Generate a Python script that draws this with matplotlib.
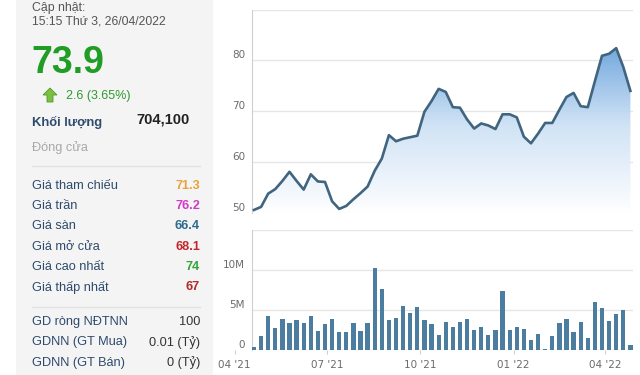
import matplotlib
matplotlib.use("Agg")
import matplotlib.pyplot as plt
import matplotlib.dates as mdates
import numpy as np
import pandas as pd
from matplotlib.colors import LinearSegmentedColormap
from matplotlib.patches import Rectangle, Polygon
from matplotlib.ticker import FuncFormatter

# ---------------- data ----------------
weeks = pd.date_range("2021-04-20", periods=54, freq="7D")  # weekly points up to 26/04/2022

price = [50.6, 51.2, 53.8, 54.7, 56.3, 58.1, 56.3, 54.6, 57.6, 56.2,
         56.1, 52.3, 50.8, 51.4, 52.7, 53.9, 55.2, 58.3, 60.7, 65.3,
         64.1, 64.6, 64.9, 65.2, 69.9, 72.0, 74.4, 73.8, 70.8, 70.7,
         68.4, 66.6, 67.6, 67.2, 66.5, 69.4, 69.4, 68.8, 65.0, 63.7,
         65.6, 67.7, 67.7, 70.3, 72.8, 73.6, 71.0, 70.8, 75.9, 80.9,
         81.3, 82.4, 78.7, 74.0]

volume_m = [0.4, 1.8, 4.2, 2.8, 3.9, 3.4, 3.75, 3.4, 4.2, 2.4,
            3.25, 3.9, 2.2, 2.2, 3.4, 2.4, 3.4, 10.25, 7.6, 3.75,
            4.0, 5.5, 4.6, 5.4, 3.75, 3.25, 1.85, 3.5, 2.9, 3.5,
            3.9, 2.55, 2.9, 1.9, 2.55, 7.4, 2.55, 2.9, 2.65, 1.25,
            1.95, 0.12, 1.7, 3.4, 3.9, 2.3, 3.5, 1.5, 6.0, 5.2,
            3.6, 4.5, 5.0, 0.6]

tick_dates = ["2021-04-01", "2021-07-01", "2021-10-01", "2022-01-01", "2022-04-01"]
tick_labels = ["04 '21", "07 '21", "10 '21", "01 '22", "04 '22"]

price_ticks = [50, 60, 70, 80]
price_grid = [50, 60, 70, 80, 90]
vol_ticks = [0, 5, 10]
vol_grid = [0, 5, 10, 15]

# left panel
stat_labels = ["Giá tham chiếu", "Giá trần", "Giá sàn", "Giá mở cửa", "Giá cao nhất", "Giá thấp nhất"]
stat_values = ["71.3", "76.2", "66.4", "68.1", "74", "67"]
stat_colors = ["#eaa23a", "#d23ac8", "#2f6b8c", "#c4262b", "#35a33a", "#b3282b"]
foreign_labels = ["GD ròng NĐTNN", "GDNN (GT Mua)", "GDNN (GT Bán)"]
foreign_values = ["100", "0.01 (Tỷ)", "0 (Tỷ)"]

# ---------------- figure ----------------
W, H = 640, 375
fig = plt.figure(figsize=(6.4, 3.75), dpi=100)
fig.patch.set_facecolor("white")

x = mdates.date2num(weeks)
d0 = mdates.date2num(pd.Timestamp("2021-04-01"))
px_day = 1.0146  # pixels per day in the reference
x_left = d0 - (234.7 - 228) / px_day
x_spine = d0 + (252 - 234.7) / px_day
x_right = d0 + (633 - 234.7) / px_day

def fig_rect(l, t, r, b):
    return [l / W, 1 - b / H, (r - l) / W, (b - t) / H]

tick_color = "#6b6b6b"
grid_color = "#e6e6e6"
axis_color = "#cfcfcf"

# ---- price chart ----
ax1 = fig.add_axes(fig_rect(228, 9.5, 633, 213))
ax1.set_xlim(x_left, x_right)
ax1.set_ylim(50, 90)
ax1.hlines(price_grid, x_spine, x_right, colors=grid_color, lw=1, zorder=0)

fill = ax1.fill_between(x, price, 50, facecolor="none", edgecolor="none")
cmap = LinearSegmentedColormap.from_list("g", ["#ffffff", "#cde1f5", "#5c9ad8"])
grad = np.linspace(0, 1, 256).reshape(-1, 1)
img = ax1.imshow(grad, extent=[x[0], x[-1], 50, 85], origin="lower",
                 aspect="auto", cmap=cmap, alpha=0.95, zorder=1)
img.set_clip_path(fill.get_paths()[0], transform=ax1.transData)
ax1.set_xlim(x_left, x_right)
ax1.set_ylim(50, 90)
ax1.plot(x, price, color="#41657f", lw=1.9, zorder=3, solid_joinstyle="round")

for s in ["top", "right", "bottom"]:
    ax1.spines[s].set_visible(False)
ax1.spines["left"].set_position(("data", x_spine))
ax1.spines["left"].set_color(axis_color)
ax1.set_yticks(price_ticks)
ax1.set_xticks([])
ax1.tick_params(axis="y", length=0, pad=5, labelsize=7.5, labelcolor=tick_color)
for lab in ax1.get_yticklabels():
    lab.set_va("bottom")
ax1.patch.set_alpha(0)

# ---- volume chart ----
ax2 = fig.add_axes(fig_rect(228, 230, 633, 350))
ax2.set_xlim(x_left, x_right)
ax2.set_ylim(0, 15)
ax2.hlines(vol_grid[1:], x_spine, x_right, colors=grid_color, lw=1, zorder=0)
ax2.hlines([0], x_spine, x_right, colors=axis_color, lw=1, zorder=2)
ax2.bar(x, volume_m, width=4.2, color="#4a7d9f", zorder=3)

for s in ["top", "right", "bottom"]:
    ax2.spines[s].set_visible(False)
ax2.spines["left"].set_position(("data", x_spine))
ax2.spines["left"].set_color(axis_color)
ax2.set_yticks(vol_ticks)
ax2.yaxis.set_major_formatter(FuncFormatter(lambda v, p: "0" if v == 0 else f"{v:.0f}M"))
ax2.set_xticks(mdates.date2num(pd.to_datetime(tick_dates)))
ax2.set_xticklabels(tick_labels)
ax2.tick_params(axis="y", length=0, pad=5, labelsize=7.5, labelcolor=tick_color)
ax2.tick_params(axis="x", length=3, width=0.8, color=axis_color, pad=4.5,
                labelsize=7.5, labelcolor=tick_color)
for lab in ax2.get_yticklabels():
    lab.set_va("bottom")
ax2.patch.set_alpha(0)

# ---- left info panel ----
ov = fig.add_axes([0, 0, 1, 1], zorder=-1)
ov.set_xlim(0, W)
ov.set_ylim(H, 0)
ov.axis("off")
ov.add_patch(Rectangle((16, 0), 197, H, facecolor="#f4f4f4", edgecolor="none"))

font = "Liberation Sans"
lab_col = "#2d4a6c"
ov.text(32, 8, "Cập nhật:", fontsize=8.8, color="#555555", family=font, va="center")
ov.text(32, 21, "15:15 Thứ 3, 26/04/2022", fontsize=8.8, color="#555555", family=font, va="center")
ov.text(31, 63, "73.9", fontsize=27, color="#1f9d24", family=font, weight="bold", va="center")

arrow = [(50, 88), (57, 95), (53, 95), (53, 102), (47, 102), (47, 95), (43, 95)]
ov.add_patch(Polygon(arrow, closed=True, facecolor="#7cc043", edgecolor="#4f9a2a", lw=0.6))
ov.text(66, 96, "2.6 (3.65%)", fontsize=9, color="#2e9a2e", family=font, va="center")

ov.text(32, 122, "Khối lượng", fontsize=9.4, color=lab_col, family=font, weight="bold", va="center")
ov.text(190, 120, "704,100", fontsize=10.5, color="#222222", family=font, weight="bold",
        va="center", ha="right")
ov.text(32, 148, "Đóng cửa", fontsize=9.2, color="#a8a8a8", family=font, va="center")
ov.plot([32, 200], [166, 166], color="#e2e2e2", lw=1)

for i, (lab, val, col) in enumerate(zip(stat_labels, stat_values, stat_colors)):
    yy = 186 + i * 20.2
    ov.text(32, yy, lab, fontsize=9.2, color=lab_col, family=font, va="center")
    ov.text(200, yy, val, fontsize=9.2, color=col, family=font, weight="bold",
            va="center", ha="right")

ov.plot([32, 200], [307, 307], color="#e2e2e2", lw=1)
for i, (lab, val) in enumerate(zip(foreign_labels, foreign_values)):
    yy = 322 + i * 20.5
    ov.text(32, yy, lab, fontsize=9.2, color=lab_col, family=font, va="center")
    ov.text(200, yy, val, fontsize=9.2, color="#333333", family=font,
            va="center", ha="right")

fig.savefig("out.png", dpi=100, facecolor="white")
